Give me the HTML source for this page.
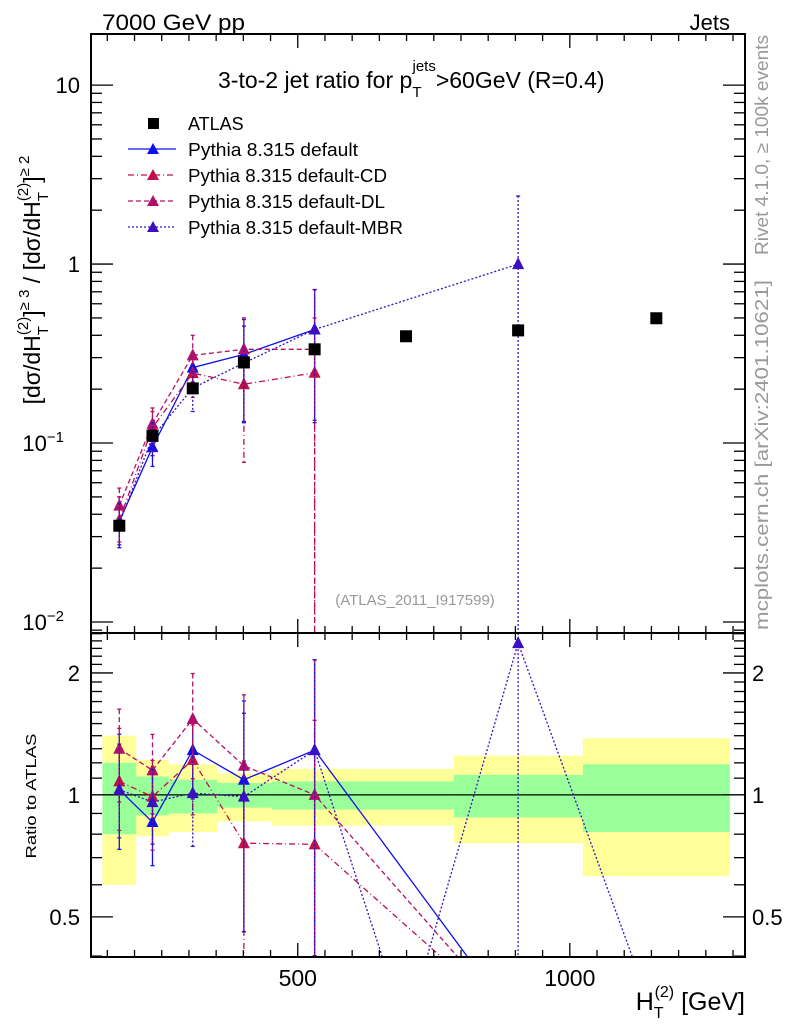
<!DOCTYPE html>
<html><head><meta charset="utf-8"><style>
html,body{margin:0;padding:0;background:#fff;}
svg{display:block;font-family:"Liberation Sans",sans-serif;}
</style></head><body>
<svg id="chart" width="786" height="1024" viewBox="0 0 786 1024"></svg>
<script>
// ---- data ----
const binEdges = [141,203,263,352,452,611,787,1024,1294];
const xCenters = [172,233,307,401,531,699,905,1159];
const atlasVals = [0.0345,0.110,0.202,0.282,0.334,0.395,0.426,0.498];
const bandYellowHi = [1.40,1.22,1.19,1.13,1.16,1.16,1.25,1.38];
const bandYellowLo = [0.60,0.79,0.81,0.86,0.84,0.84,0.76,0.63];
const bandGreenHi = [1.20,1.11,1.09,1.07,1.08,1.08,1.12,1.19];
const bandGreenLo = [0.80,0.89,0.90,0.93,0.92,0.92,0.88,0.81];
const defVals = [0.0365,0.0948,0.264,0.313,0.431];
const defHi = [0.050,0.125,0.32,0.49,0.72];
const defLo = [0.026,0.074,0.20,0.132,0.134];
const cdVals = [0.037,0.122,0.246,0.213,0.247];
const cdHi = [0.050,0.150,0.30,0.34,0.50];
const cdLo = [0.028,0.090,0.18,0.078,0];
const dlVals = [0.0447,0.128,0.309,0.334,0.334];
const dlHi = [0.056,0.157,0.40,0.50,0.72];
const dlLo = [0.033,0.100,0.22,0.13,0];
const mbrVals = [0.0355,0.108,0.203,0.280,0.431,null,1.0];
const mbrHi = [0.046,0.130,0.25,0.45,0.72,null,2.4];
const mbrLo = [0.027,0.085,0.15,0.13,0.13,null,0];
const defRatio = [1.03,0.857,1.29,1.09,1.29,null,0.27];
const cdRatio = [1.08,0.99,1.22,0.76,0.755,null,0.27];
const dlRatio = [1.30,1.15,1.54,1.18,1.0,null,0.27];
const mbrRatio = [1.03,0.96,1.01,0.99,1.29,0.264,2.37,0.274];
const xTicks = [500,1000];
const mainYTicks = [0.01,0.1,1,10];
const ratioYTicks = [0.5,1,2];

// ---- geometry ----
const L=91,R=745,T=34,MB=633,RB=957;
const xS=v=>L+(v-120)*(R-L)/(1322-120);
const yMain=v=>{const lo=Math.log10(0.00868),hi=Math.log10(19.3);return MB-(Math.log10(Math.max(v,1e-9))-lo)/(hi-lo)*(MB-T);};
const yRat=v=>{const lo=Math.log10(0.398),hi=Math.log10(2.51);return RB-(Math.log10(Math.max(v,1e-9))-lo)/(hi-lo)*(RB-MB);};
const svg=document.getElementById('chart');
const NS='http://www.w3.org/2000/svg';
function mk(tag,attrs,parent){const e=document.createElementNS(NS,tag);for(const k in attrs)e.setAttribute(k,attrs[k]);(parent||svg).appendChild(e);return e;}

const defs=mk('defs',{});
const c1=mk('clipPath',{id:'cm'},defs);mk('rect',{x:L,y:T,width:R-L,height:MB-T},c1);
const c2=mk('clipPath',{id:'cr'},defs);mk('rect',{x:L,y:MB,width:R-L,height:RB-MB},c2);

const bandG=mk('g',{'clip-path':'url(#cr)'});


for(let i=0;i<atlasVals.length;i++){
  const x0=xS(binEdges[i]),x1=xS(binEdges[i+1]);
  const ry=mk('rect',{x:x0,y:yRat(bandYellowHi[i]),width:x1-x0,height:yRat(bandYellowLo[i])-yRat(bandYellowHi[i]),fill:'#ffff99'},bandG);
  
  
}
for(let i=0;i<atlasVals.length;i++){
  const x0=xS(binEdges[i]),x1=xS(binEdges[i+1]);
  const rg=mk('rect',{x:x0,y:yRat(bandGreenHi[i]),width:x1-x0,height:yRat(bandGreenLo[i])-yRat(bandGreenHi[i]),fill:'#99ff99'},bandG);
  
  
}
mk('line',{x1:L,x2:R,y1:yRat(1),y2:yRat(1),stroke:'#000','stroke-width':1.2});

function tri(g,x,y,col){mk('path',{d:`M${x-6},${y+5} L${x+6},${y+5} L${x},${y-7} Z`,fill:col},g);}

const series=[
 {name:'default',col:'#1010ee',dash:'',vals:defVals,hi:defHi,lo:defLo,ratio:defRatio},
 {name:'default-cd',col:'#c0104a',dash:'6,3,1,3',vals:cdVals,hi:cdHi,lo:cdLo,ratio:cdRatio},
 {name:'default-dl',col:'#b0106a',dash:'5,3',vals:dlVals,hi:dlHi,lo:dlLo,ratio:dlRatio},
 {name:'default-mbr',col:'#3a10c0',dash:'2,2',vals:mbrVals,hi:mbrHi,lo:mbrLo,ratio:mbrRatio}
];
const mainG=mk('g',{'clip-path':'url(#cm)'});
const ratG=mk('g',{'clip-path':'url(#cr)'});
series.forEach(s=>{
  const g=mk('g',{},mainG);
  
  
  let pts=[];
  s.vals.forEach((v,i)=>{if(v!=null)pts.push([xS(xCenters[i]),yMain(v)]);});
  mk('polyline',{points:pts.map(p=>p.join(',')).join(' '),fill:'none',stroke:s.col,'stroke-width':1.3,'stroke-dasharray':s.dash},g);
  s.vals.forEach((v,i)=>{
    if(v==null)return;const x=xS(xCenters[i]);
    const yh=yMain(s.hi[i]),yl=s.lo[i]>0?yMain(s.lo[i]):MB+5;
    mk('line',{x1:x,x2:x,y1:yh,y2:yl,stroke:s.col,'stroke-width':1.3,'stroke-dasharray':s.dash},g);
    mk('line',{x1:x-2,x2:x+2,y1:yh,y2:yh,stroke:s.col,'stroke-width':1.3},g);
    if(s.lo[i]>0)mk('line',{x1:x-2,x2:x+2,y1:yl,y2:yl,stroke:s.col,'stroke-width':1.3},g);
    tri(g,x,yMain(v),s.col);
  });
  const rg=mk('g',{},ratG);
  
  
  let rp=[];
  s.ratio.forEach((v,i)=>{if(v!=null)rp.push([xS(xCenters[i]),yRat(v)]);});
  mk('polyline',{points:rp.map(p=>p.join(',')).join(' '),fill:'none',stroke:s.col,'stroke-width':1.3,'stroke-dasharray':s.dash},rg);
  s.vals.forEach((v,i)=>{
    if(v==null||s.ratio[i]==null)return;const x=xS(xCenters[i]),r=s.ratio[i];
    const yh=yRat(r*s.hi[i]/v),yl=s.lo[i]>0?yRat(r*s.lo[i]/v):RB+5;
    mk('line',{x1:x,x2:x,y1:yh,y2:yl,stroke:s.col,'stroke-width':1.3,'stroke-dasharray':s.dash},rg);
    mk('line',{x1:x-2,x2:x+2,y1:yh,y2:yh,stroke:s.col,'stroke-width':1.3},rg);
    if(s.lo[i]>0)mk('line',{x1:x-2,x2:x+2,y1:yl,y2:yl,stroke:s.col,'stroke-width':1.3},rg);
    tri(rg,x,yRat(r),s.col);
  });
});
const ag=mk('g',{});


atlasVals.forEach((v,i)=>{
  const r=mk('rect',{x:xS(xCenters[i])-6,y:yMain(v)-6,width:12,height:12,fill:'#000'},ag);
  
  
});

mk('rect',{x:L,y:T,width:R-L,height:MB-T,fill:'none',stroke:'#000','stroke-width':2});
mk('rect',{x:L,y:MB,width:R-L,height:RB-MB,fill:'none',stroke:'#000','stroke-width':2});
for(let v=150;v<=1300;v+=50){
  const x=xS(v),maj=(v%500===0);const len=maj?14:7;
  [[MB,-1],[T,1],[RB,-1],[MB,1]].forEach(([y0,d])=>mk('line',{x1:x,x2:x,y1:y0,y2:y0+d*len,stroke:'#000','stroke-width':1.3}));
}
xTicks.forEach(v=>{const t=mk('text',{x:xS(v),y:986,'font-size':23,'text-anchor':'middle'});t.textContent=v;
  });
for(let d=-3;d<=1;d++)for(let m=1;m<=9;m++){
  const v=m*Math.pow(10,d);if(v<0.00868||v>19.3)continue;const y=yMain(v),len=m===1?22:11;
  mk('line',{x1:L,x2:L+len,y1:y,y2:y,stroke:'#000','stroke-width':1.3});
  mk('line',{x1:R,x2:R-len,y1:y,y2:y,stroke:'#000','stroke-width':1.3});
}
const yl=[['10','−2'],['10','−1'],['1',''],['10','']];
mainYTicks.forEach((v,i)=>{
  const t=mk('text',{x:80,y:yMain(v)+8,'font-size':22,'text-anchor':'end'});
  t.textContent=yl[i][0];
  if(yl[i][1]){t.setAttribute('x',64);const s=mk('tspan',{dy:-9,'font-size':15},t);s.textContent=yl[i][1];}
  
});
for(let k=4;k<=25;k++){
  const v=k/10;if(v<0.398||v>2.51)continue;const y=yRat(v);const maj=(k===5||k===10||k===20);const len=maj?22:11;
  mk('line',{x1:L,x2:L+len,y1:y,y2:y,stroke:'#000','stroke-width':1.3});
  mk('line',{x1:R,x2:R-len,y1:y,y2:y,stroke:'#000','stroke-width':1.3});
}
ratioYTicks.forEach(v=>{
  const t=mk('text',{x:80,y:yRat(v)+8,'font-size':22,'text-anchor':'end'});t.textContent=v;
  
  const t2=mk('text',{x:752,y:yRat(v)+8,'font-size':22,'text-anchor':'start'});t2.textContent=v;
  
});
</script>
<svg width="786" height="1024" style="position:absolute;left:0;top:0;font-family:'Liberation Sans',sans-serif">
 <text x="102" y="30" font-size="22" textLength="143" lengthAdjust="spacingAndGlyphs">7000 GeV pp</text>
 <text x="730" y="30" font-size="22" text-anchor="end">Jets</text>
 <text x="218" y="88" font-size="23">3-to-2 jet ratio for p<tspan dy="9" font-size="15">T</tspan><tspan dy="-26" dx="-9" font-size="15">jets</tspan><tspan dy="17">&gt;60GeV (R=0.4)</tspan></text>
 <g font-size="18">
  <rect x="148" y="118" width="11" height="11" fill="#000"/>
  <text x="188" y="130">ATLAS</text>
  <line x1="128" x2="176" y1="149" y2="149" stroke="#1010ee" stroke-width="1.3"/>
  <path d="M147,154 L159,154 L153,143 Z" fill="#1010ee"/>
  <text x="188" y="156" textLength="170" lengthAdjust="spacingAndGlyphs">Pythia 8.315 default</text>
  <line x1="128" x2="176" y1="175" y2="175" stroke="#c0104a" stroke-width="1.3" stroke-dasharray="6,3,1,3"/>
  <path d="M147,180 L159,180 L153,169 Z" fill="#c0104a"/>
  <text x="188" y="182" textLength="199" lengthAdjust="spacingAndGlyphs">Pythia 8.315 default-CD</text>
  <line x1="128" x2="176" y1="201" y2="201" stroke="#b0106a" stroke-width="1.3" stroke-dasharray="5,3"/>
  <path d="M147,206 L159,206 L153,195 Z" fill="#b0106a"/>
  <text x="188" y="208" textLength="197" lengthAdjust="spacingAndGlyphs">Pythia 8.315 default-DL</text>
  <line x1="128" x2="176" y1="227" y2="227" stroke="#3a10c0" stroke-width="1.3" stroke-dasharray="2,2"/>
  <path d="M147,232 L159,232 L153,221 Z" fill="#3a10c0"/>
  <text x="188" y="234" textLength="215" lengthAdjust="spacingAndGlyphs">Pythia 8.315 default-MBR</text>
 </g>
 <text x="415" y="605" font-size="15" fill="#999" text-anchor="middle">(ATLAS_2011_I917599)</text>
 <text transform="translate(40,280) rotate(-90)" font-size="23" text-anchor="middle">[dσ/dH<tspan font-size="15" dy="8">T</tspan><tspan font-size="15" dy="-20" dx="-9">(2)</tspan><tspan dy="12">]</tspan><tspan font-size="15" dy="-11">≥ 3</tspan><tspan dy="11"> / [dσ/dH</tspan><tspan font-size="15" dy="8">T</tspan><tspan font-size="15" dy="-20" dx="-9">(2)</tspan><tspan dy="12">]</tspan><tspan font-size="15" dy="-11">≥ 2</tspan></text>
 <text transform="translate(36,796) rotate(-90)" font-size="15" text-anchor="middle" textLength="125" lengthAdjust="spacingAndGlyphs">Ratio to ATLAS</text>
 <text transform="translate(768,145) rotate(-90)" font-size="18" fill="#999" text-anchor="middle" textLength="220" lengthAdjust="spacingAndGlyphs">Rivet 4.1.0, ≥ 100k events</text>
 <text transform="translate(768,455) rotate(-90)" font-size="18" fill="#999" text-anchor="middle" textLength="350" lengthAdjust="spacingAndGlyphs">mcplots.cern.ch [arXiv:2401.10621]</text>
 <text x="745" y="1010" font-size="25" text-anchor="end">H<tspan font-size="16" dy="8">T</tspan><tspan font-size="16" dy="-21" dx="-9">(2)</tspan><tspan dy="13"> [GeV]</tspan></text>
</svg>
</body></html>
